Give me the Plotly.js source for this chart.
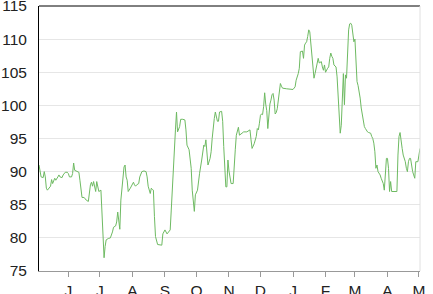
<!DOCTYPE html>
<html><head><meta charset="utf-8">
<script src="https://cdn.plot.ly/plotly-3.0.1.min.js"></script>
<style>html,body{margin:0;padding:0;background:#fff}#chart{width:433px;height:294px}</style>
</head><body><div id="chart"></div>
<script>
const dates = [
"2012-05-04","2012-05-06","2012-05-08","2012-05-09","2012-05-10","2012-05-11","2012-05-12","2012-05-14","2012-05-15","2012-05-16",
"2012-05-17","2012-05-19","2012-05-20","2012-05-22","2012-05-23","2012-05-24","2012-05-26","2012-05-27","2012-05-29","2012-05-31",
"2012-06-01","2012-06-02","2012-06-04","2012-06-05","2012-06-06","2012-06-07","2012-06-09","2012-06-11","2012-06-12","2012-06-13",
"2012-06-14","2012-06-16","2012-06-17","2012-06-18","2012-06-20","2012-06-21","2012-06-22","2012-06-23","2012-06-24","2012-06-25",
"2012-06-27","2012-06-28","2012-06-29","2012-06-30","2012-07-02","2012-07-03","2012-07-04","2012-07-05","2012-07-06","2012-07-07",
"2012-07-09","2012-07-11","2012-07-13","2012-07-14","2012-07-16","2012-07-17","2012-07-18","2012-07-20","2012-07-21","2012-07-22",
"2012-07-23","2012-07-24","2012-07-25","2012-07-26","2012-07-27","2012-07-28","2012-07-30","2012-07-31","2012-08-02","2012-08-03",
"2012-08-04","2012-08-05","2012-08-07","2012-08-08","2012-08-10","2012-08-12","2012-08-14","2012-08-15","2012-08-16","2012-08-18",
"2012-08-19","2012-08-20","2012-08-21","2012-08-22","2012-08-23","2012-08-25","2012-08-27","2012-08-29","2012-08-30","2012-09-01",
"2012-09-03","2012-09-05","2012-09-06","2012-09-07","2012-09-08","2012-09-09","2012-09-10","2012-09-11","2012-09-12","2012-09-13",
"2012-09-15","2012-09-16","2012-09-18","2012-09-20","2012-09-21","2012-09-22","2012-09-24","2012-09-25","2012-09-26","2012-09-27",
"2012-09-28","2012-09-29","2012-09-30","2012-10-01","2012-10-02","2012-10-04","2012-10-05","2012-10-06","2012-10-08","2012-10-09",
"2012-10-10","2012-10-11","2012-10-12","2012-10-14","2012-10-15","2012-10-16","2012-10-17","2012-10-18","2012-10-19","2012-10-21",
"2012-10-22","2012-10-23","2012-10-25","2012-10-26","2012-10-27","2012-10-28","2012-10-29","2012-10-30","2012-10-31","2012-11-01",
"2012-11-02","2012-11-03","2012-11-05","2012-11-06","2012-11-07","2012-11-08","2012-11-09","2012-11-10","2012-11-11","2012-11-13",
"2012-11-15","2012-11-18","2012-11-20","2012-11-21","2012-11-22","2012-11-23","2012-11-25","2012-11-26","2012-11-27","2012-11-28",
"2012-11-29","2012-11-30","2012-12-01","2012-12-02","2012-12-03","2012-12-04","2012-12-05","2012-12-06","2012-12-07","2012-12-08",
"2012-12-09","2012-12-10","2012-12-11","2012-12-12","2012-12-13","2012-12-14","2012-12-15","2012-12-16","2012-12-17","2012-12-18",
"2012-12-19","2012-12-20","2012-12-21","2012-12-22","2012-12-26","2012-12-31","2013-01-01","2013-01-03","2013-01-04","2013-01-06",
"2013-01-07","2013-01-08","2013-01-10","2013-01-11","2013-01-12","2013-01-13","2013-01-14","2013-01-15","2013-01-16","2013-01-17",
"2013-01-18","2013-01-19","2013-01-20","2013-01-21","2013-01-22","2013-01-23","2013-01-24","2013-01-25","2013-01-26","2013-01-28",
"2013-01-29","2013-01-30","2013-01-31","2013-02-01","2013-02-03","2013-02-04","2013-02-05","2013-02-06","2013-02-07","2013-02-08",
"2013-02-09","2013-02-11","2013-02-12","2013-02-13","2013-02-14","2013-02-15","2013-02-16","2013-02-17","2013-02-18","2013-02-19",
"2013-02-20","2013-02-21","2013-02-22","2013-02-23","2013-02-24","2013-02-25","2013-02-26","2013-02-27","2013-02-28","2013-03-01",
"2013-03-02","2013-03-03","2013-03-04","2013-03-05","2013-03-06","2013-03-07","2013-03-08","2013-03-09","2013-03-10","2013-03-11",
"2013-03-12","2013-03-13","2013-03-14","2013-03-16","2013-03-17","2013-03-18","2013-03-19","2013-03-20","2013-03-21","2013-03-22",
"2013-03-23","2013-03-24","2013-03-25","2013-03-26","2013-03-27","2013-03-28","2013-03-29","2013-03-30","2013-03-31","2013-04-01",
"2013-04-02","2013-04-03","2013-04-04","2013-04-05","2013-04-08","2013-04-10","2013-04-11","2013-04-12","2013-04-13","2013-04-14",
"2013-04-15","2013-04-16","2013-04-18","2013-04-19","2013-04-20","2013-04-21","2013-04-22","2013-04-23","2013-04-24","2013-04-25",
"2013-04-26","2013-04-27","2013-04-28","2013-04-30","2013-05-01","2013-05-02"
];
const values = [
91.0,89.2,89.1,90.0,89.2,87.5,87.2,87.5,87.8,88.8,
88.2,89.0,88.7,89.2,89.5,89.2,89.1,89.5,89.9,89.9,
89.7,89.2,89.2,89.7,91.3,90.2,90.0,89.9,88.7,87.2,
86.1,86.1,85.8,85.7,85.5,87.2,88.0,88.4,87.8,88.5,
87.0,88.5,87.5,87.0,87.2,83.0,78.5,77.0,78.7,79.7,
79.9,80.0,80.9,81.6,81.8,82.4,83.9,81.3,85.7,87.5,
88.7,90.7,91.0,89.2,88.7,87.0,87.5,87.8,88.4,88.0,
87.8,88.0,88.2,89.2,90.0,90.1,90.0,89.2,87.8,86.7,
87.5,87.3,87.2,83.2,80.2,79.0,78.9,78.9,80.6,81.2,
80.6,81.0,81.2,84.2,87.7,90.7,93.3,96.3,99.0,96.0,
96.8,97.9,97.9,97.8,96.3,94.0,93.3,91.75,90.5,87.2,
85.7,84.0,86.5,86.8,87.2,89.75,90.5,91.75,94.0,93.8,
94.8,92.3,91.0,92.0,93.0,95.0,96.8,98.0,99.0,97.6,
97.6,99.0,99.1,97.6,93.8,89.75,87.7,87.7,91.75,90.1,
88.7,88.2,88.2,90.1,93.3,95.5,96.3,96.7,95.5,95.8,
96.0,96.0,96.2,96.3,94.8,93.5,94.2,94.7,95.3,96.5,
96.3,97.3,98.5,98.7,98.6,99.8,101.9,100.2,99.2,96.5,
98.7,100.2,100.8,101.6,101.8,100.8,98.7,98.9,99.5,100.8,
102.6,103.3,102.9,102.6,102.5,102.5,102.4,102.8,103.8,104.8,
105.6,108.1,108.2,107.1,109.1,109.4,109.6,110.4,111.4,111.1,
109.6,107.6,105.6,104.1,104.8,105.6,106.6,107.1,106.4,106.6,
105.8,105.3,106.1,105.0,105.6,105.8,107.1,107.9,107.4,107.1,
106.1,105.8,104.3,101.6,98.5,95.8,97.0,100.6,104.8,100.1,
104.6,104.1,107.6,111.4,112.3,112.4,112.1,111.1,109.6,110.0,
106.1,103.6,103.0,102.3,101.1,99.6,98.5,97.5,96.8,96.5,
96.2,96.0,95.9,95.8,95.3,95.0,94.3,93.0,90.5,91.0,
90.0,89.75,89.5,89.0,88.5,88.2,87.2,90.0,92.0,92.0,
90.5,87.0,88.5,87.0,87.0,87.0,92.5,95.3,95.9,95.0,
93.5,92.5,91.5,90.5,90.0,91.5,92.0,92.0,90.75,90.0,
89.5,89.0,91.5,91.5,92.5,93.5
];
const monthTicks = ["2012-06-01","2012-07-01","2012-08-01","2012-09-01","2012-10-01","2012-11-01","2012-12-01","2013-01-01","2013-02-01","2013-03-01","2013-04-01","2013-05-01"];
const monthLabels = ["J","J","A","S","O","N","D","J","F","M","A","M"];
const yTicks = [75,80,85,90,95,100,105,110,115];

const trace = {
  x: dates, y: values, type: "scatter", mode: "lines",
  line: {color: "rgb(110,186,98)", width: 1},
  hoverinfo: "skip"
};
const layout = {
  width: 433, height: 294,
  margin: {l: 39, r: 13, t: 6, b: 23, pad: 0},
  paper_bgcolor: "#fff", plot_bgcolor: "#fff",
  showlegend: false,
  font: {family: "Liberation Sans, Arial, sans-serif", size: 15.5, color: "#222"},
  xaxis: {
    type: "date",
    tickmode: "array", tickvals: monthTicks, ticktext: monthLabels,
    ticks: "outside", ticklen: 5, tickcolor: "#999", tickwidth: 1,
    showline: true, linecolor: "#999", linewidth: 1,
    showgrid: false, zeroline: false,
    ticklabeloverflow: "allow",
    tickfont: {size: 15.5, color: "#222"}
  },
  yaxis: {
    range: [75, 115], tickmode: "array", tickvals: yTicks,
    ticks: "", showline: true, linecolor: "#000", linewidth: 1,
    showgrid: true, gridcolor: "#e6e6e6", gridwidth: 1, zeroline: false,
    ticklabelstandoff: 8, ticklabeloverflow: "allow",
    tickfont: {size: 15.5, color: "#222"}
  },
  shapes: [
    {type: "line", xref: "paper", yref: "paper", x0: 0, x1: 1, y0: 1, y1: 1, line: {color: "#000", width: 1}},
    {type: "line", xref: "paper", yref: "paper", x0: 1, x1: 1, y0: 0, y1: 1, line: {color: "#e0e0e0", width: 1}}
  ]
};
Plotly.newPlot("chart", [trace], layout, {staticPlot: true, displayModeBar: false});
</script>
</body></html>
